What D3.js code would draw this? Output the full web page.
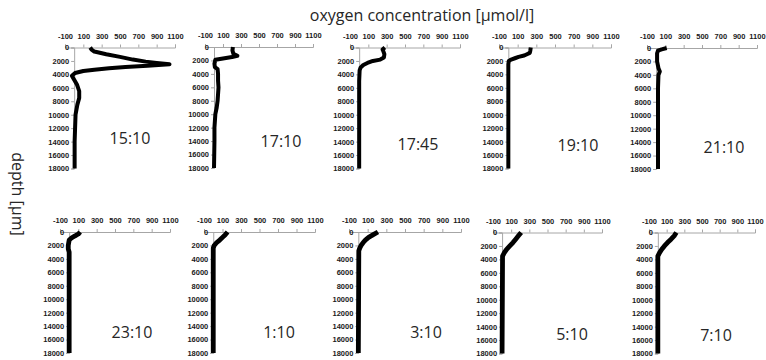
<!DOCTYPE html>
<html>
<head>
<meta charset="utf-8">
<script src="https://cdn.jsdelivr.net/npm/d3@7"></script>
<style>
  body { margin: 0; background: #fff; }
  .axis path, .axis line { stroke: #a6a6a6; stroke-width: 1; }
  .axis text { font-family: "Liberation Sans", Arial, sans-serif; font-weight: bold; font-size: 7.5px; fill: #1a1a1a; }
</style>
</head>
<body>
<svg width="766" height="360"></svg>
<script>
// time of each profile
const times = ["15:10", "17:10", "17:45", "19:10", "21:10", "23:10", "1:10", "3:10", "5:10", "7:10"]

// tick values of both axes
const xTicks = [-100, 100, 300, 500, 700, 900, 1100]
const yTicks = [0, 2000, 4000, 6000, 8000, 10000, 12000, 14000, 16000, 18000]

// profiles as [depth µm, oxygen µmol/l]
const p1510 = [[0, 175], [300, 190], [600, 220], [1000, 350], [1400, 500], [1800, 640], [2100, 780], [2300, 900], [2500, 1040],
  [2700, 800], [2900, 560], [3100, 380], [3300, 220], [3500, 100], [3800, 10], [4200, -25], [4800, 0], [5500, 30], [6500, 55],
  [7500, 55], [8500, 35], [10000, 15], [12000, 10], [14000, 5], [16000, 5], [18000, 5]]
const p1710 = [[0, 210], [500, 205], [1000, 215], [1300, 260], [1500, 200], [1700, 100], [1900, 15], [2500, 5], [3000, 10],
  [3300, 40], [4000, 45], [5000, 45], [6000, 50], [7000, 45], [8000, 40], [9000, 30], [10000, 15], [12000, 5], [14000, 5], [18000, 0]]
const p1745 = [[0, 280], [300, 255], [600, 265], [1000, 275], [1500, 270], [1800, 230], [2000, 150], [2300, 90], [2600, 45],
  [3000, 15], [3400, 5], [5000, 0], [18000, 0]]
const p1910 = [[0, 240], [500, 235], [800, 230], [1000, 200], [1200, 170], [1400, 110], [1600, 70], [1800, 30], [2000, 5],
  [2500, 0], [18000, 0]]
const p2110 = [[0, 115], [200, 60], [400, 20], [800, 10], [2000, 10], [3000, 25], [3500, 40], [4000, 25], [6000, 20], [18000, 20]]
const p2310 = [[0, 120], [300, 100], [600, 60], [900, 25], [1200, 0], [2000, -10], [2500, -10], [3000, 0], [18000, 0]]
const p0110 = [[0, 155], [400, 130], [800, 100], [1200, 70], [1600, 35], [2000, 10], [2400, 0], [18000, 0]]
const p0310 = [[0, 210], [400, 160], [800, 110], [1200, 75], [1600, 50], [2000, 30], [2400, 15], [2800, 5], [18000, 0]]
const p0510 = [[0, 210], [500, 180], [1000, 150], [1500, 120], [2000, 85], [2500, 50], [3000, 25], [3500, 5], [18000, 0]]
const p0710 = [[0, 210], [500, 185], [1000, 150], [1500, 110], [2000, 75], [2500, 45], [3000, 20], [3500, 0], [18000, 0]]

const profiles = [p1510, p1710, p1745, p1910, p2110, p2310, p0110, p0310, p0510, p0710]

// where each little chart sits (plot area left/top/width, label centre/baseline)
const layout = [
  { left: 65, top: 47.5, w: 110, lx: 130, ly: 144 },
  { left: 205, top: 47, w: 108, lx: 281, ly: 147 },
  { left: 350, top: 47.5, w: 110, lx: 418, ly: 150 },
  { left: 499, top: 47.5, w: 112, lx: 578, ly: 151 },
  { left: 647, top: 48, w: 110, lx: 724, ly: 153 },
  { left: 60, top: 232, w: 110, lx: 132, ly: 338 },
  { left: 204, top: 232, w: 111, lx: 279, ly: 338 },
  { left: 349, top: 232, w: 112, lx: 426, ly: 338 },
  { left: 493, top: 232.5, w: 109, lx: 572, ly: 340 },
  { left: 649, top: 232.5, w: 106, lx: 716, ly: 341 },
]

const svg = d3.select("svg")
const ph = 121

profiles.forEach((prof, i) => {
  const L = layout[i]
  const g = svg.append("g").attr("transform", `translate(${L.left},${L.top})`)

  const x = d3.scaleLinear().domain([-100, 1100]).range([0, L.w])
  const y = d3.scaleLinear().domain([0, 18000]).range([0, ph])

  // x axis on top
  g.append("g")
    .attr("class", "axis")
    .call(d3.axisTop(x).tickValues(xTicks).tickSize(3).tickPadding(6).tickFormat((d) => String(d)))

  // depth axis crossing at 0
  g.append("g")
    .attr("class", "axis")
    .attr("transform", `translate(${x(0)},0)`)
    .call(d3.axisLeft(y).tickValues(yTicks).tickSize(3).tickPadding(2).tickFormat((d) => String(d)))

  const line = d3.line().x((d) => x(d[1])).y((d) => y(d[0]))
  g.append("path")
    .datum(prof)
    .attr("d", line)
    .attr("fill", "none")
    .attr("stroke", "#000")
    .attr("stroke-width", i < 5 ? 4 : 4.8)
    .attr("stroke-linejoin", "round")

  svg.append("text")
    .attr("x", L.lx)
    .attr("y", L.ly)
    .attr("text-anchor", "middle")
    .style("font-family", "'Open Sans', sans-serif")
    .style("font-size", "16px")
    .style("fill", "#262626")
    .text(times[i])
})

// titles
svg.append("text")
  .attr("x", 422)
  .attr("y", 21)
  .attr("text-anchor", "middle")
  .style("font-family", "'Open Sans', sans-serif")
  .style("font-size", "16px")
  .style("fill", "#262626")
  .text("oxygen concentration [µmol/l]")

svg.append("text")
  .attr("transform", "translate(12,194) rotate(90)")
  .attr("text-anchor", "middle")
  .style("font-family", "'Open Sans', sans-serif")
  .style("font-size", "16px")
  .style("fill", "#262626")
  .text("depth [µm]")
</script>
</body>
</html>
